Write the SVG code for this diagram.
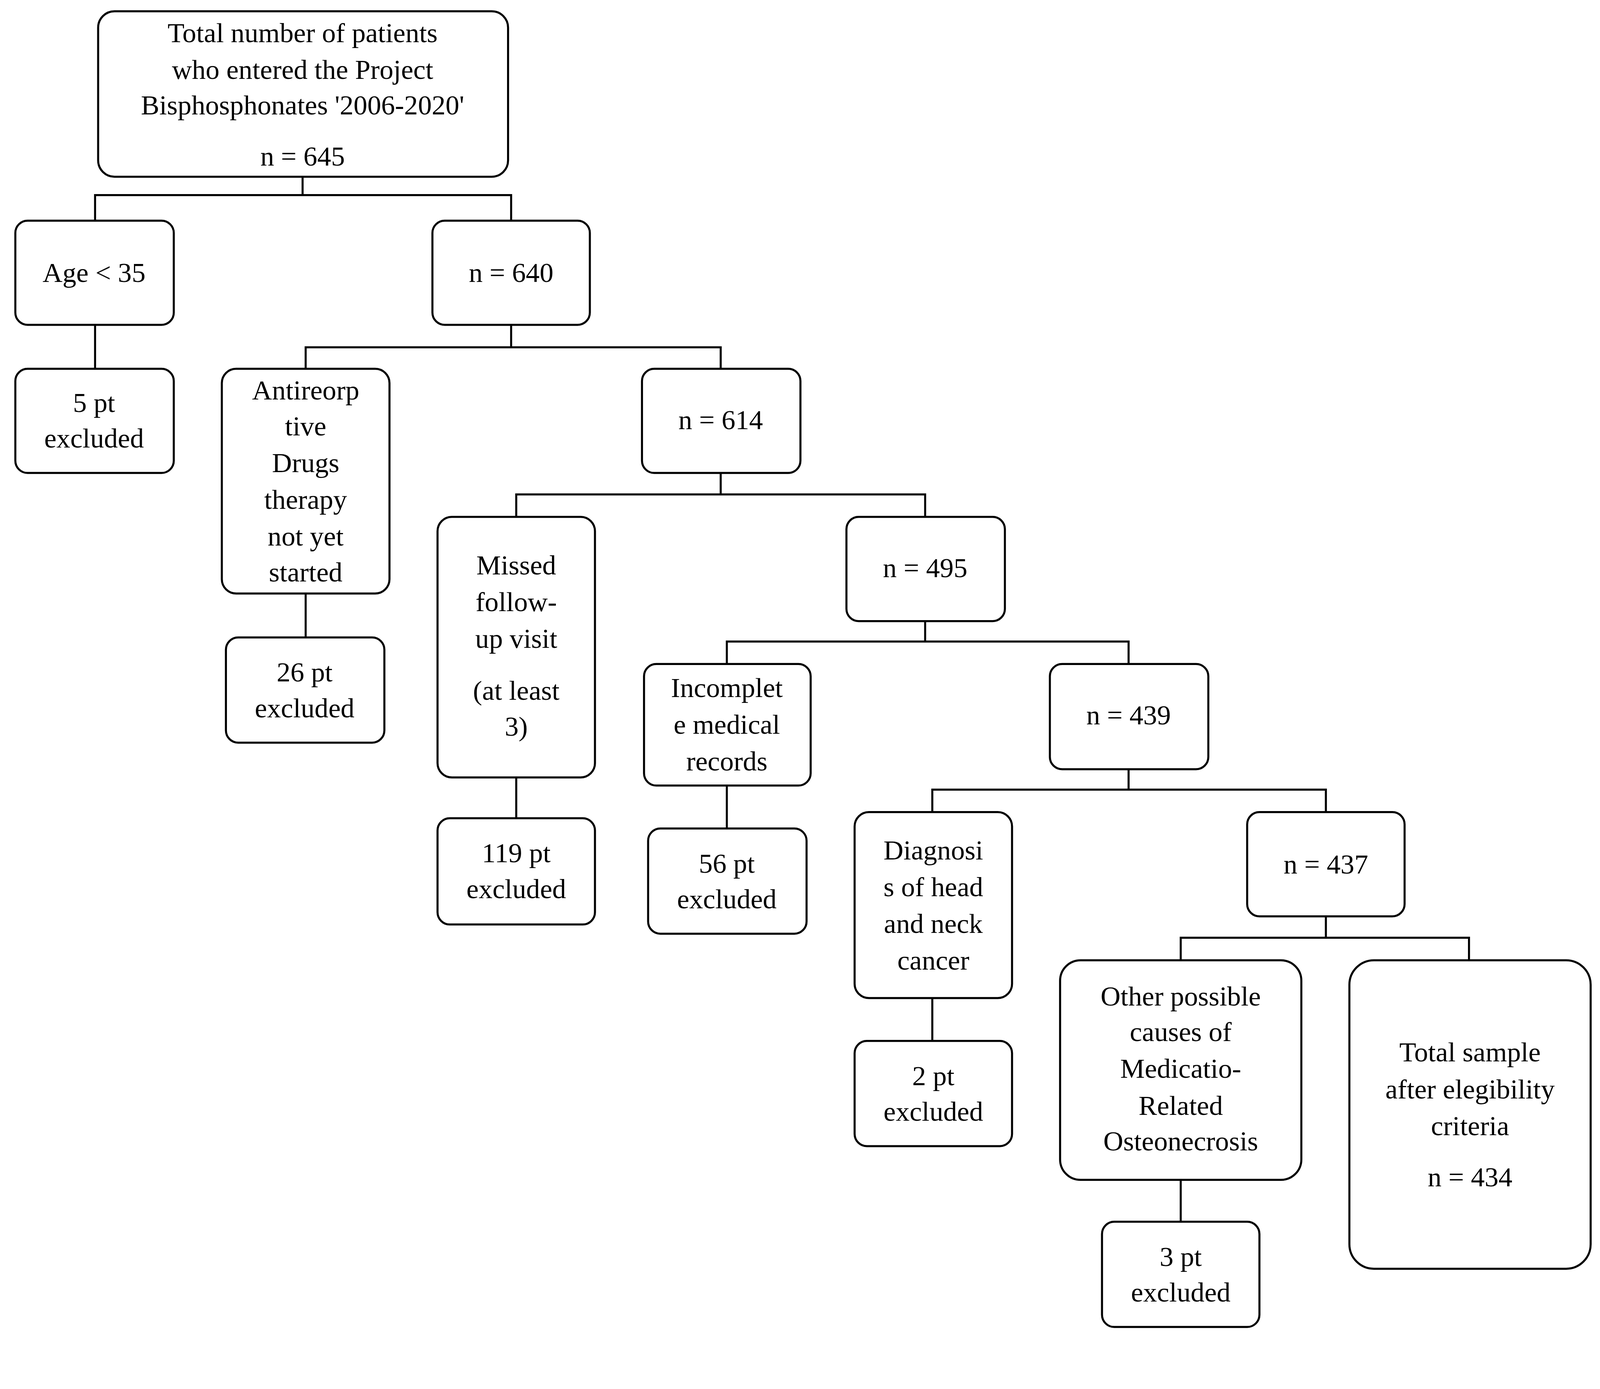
<svg xmlns="http://www.w3.org/2000/svg" width="4255" height="3557" viewBox="0 0 4255 3557">
<style>
rect{fill:#fff;stroke:#000;stroke-width:2}
text{font-family:"Liberation Serif","Times New Roman",serif;font-size:27px;text-anchor:middle;dominant-baseline:central;fill:#000}
.c path{fill:none;stroke:#000;stroke-width:2}
</style>
<rect x="0" y="0" width="4255" height="3557" style="fill:#fff;stroke:none"/>
<g transform="scale(2.617 2.616)">
<g class="c" id="connectors">
<path d="M296 173V191M93 216V191H500V216"/>
<path d="M93 318V361"/>
<path d="M500 318V340M299 361V340H705V361"/>
<path d="M705 463V484M505 506V484H905V506"/>
<path d="M905 608V628M711 650V628H1104V650"/>
<path d="M1104 753V773M912 795V773H1297V795"/>
<path d="M1297 897V918M1155 940V918H1437V940"/>
<path d="M299 581V624M505 761V801M711 769V811M912 977V1019M1155 1155V1196"/>
</g>
<g id="n1"><rect x="96" y="11" width="401" height="162" rx="16"/><text x="296" y="32">Total number of patients</text><text x="296" y="68">who entered the Project</text><text x="296" y="103">Bisphosphonates '2006-2020'</text><text x="296" y="153">n = 645</text></g>
<g id="n2"><rect x="15" y="216" width="155" height="102" rx="12"/><text x="92" y="267">Age &lt; 35</text></g>
<g id="n3"><rect x="423" y="216" width="154" height="102" rx="12"/><text x="500" y="267">n = 640</text></g>
<g id="n4"><rect x="15" y="361" width="155" height="102" rx="12"/><text x="92" y="394">5 pt</text><text x="92" y="429">excluded</text></g>
<g id="n5"><rect x="217" y="361" width="164" height="220" rx="14"/><text x="299" y="382">Antireorp</text><text x="299" y="417">tive</text><text x="299" y="453">Drugs</text><text x="299" y="489">therapy</text><text x="299" y="525">not yet</text><text x="299" y="560">started</text></g>
<g id="n6"><rect x="628" y="361" width="155" height="102" rx="12"/><text x="705" y="411">n = 614</text></g>
<g id="n7"><rect x="221" y="624" width="155" height="103" rx="12"/><text x="298" y="658">26 pt</text><text x="298" y="693">excluded</text></g>
<g id="n8"><rect x="428" y="506" width="154" height="255" rx="14"/><text x="505" y="553">Missed</text><text x="505" y="589">follow-</text><text x="505" y="625">up visit</text><text x="505" y="676">(at least</text><text x="505" y="711">3)</text></g>
<g id="n9"><rect x="828" y="506" width="155" height="102" rx="12"/><text x="905" y="556">n = 495</text></g>
<g id="n10"><rect x="630" y="650" width="163" height="119" rx="12"/><text x="711" y="673">Incomplet</text><text x="711" y="709">e medical</text><text x="711" y="745">records</text></g>
<g id="n11"><rect x="1027" y="650" width="155" height="103" rx="12"/><text x="1104" y="700">n = 439</text></g>
<g id="n12"><rect x="428" y="801" width="154" height="104" rx="12"/><text x="505" y="835">119 pt</text><text x="505" y="870">excluded</text></g>
<g id="n13"><rect x="634" y="811" width="155" height="103" rx="12"/><text x="711" y="845">56 pt</text><text x="711" y="880">excluded</text></g>
<g id="n14"><rect x="836" y="795" width="154" height="182" rx="14"/><text x="913" y="832">Diagnosi</text><text x="913" y="868">s of head</text><text x="913" y="904">and neck</text><text x="913" y="940">cancer</text></g>
<g id="n15"><rect x="1220" y="795" width="154" height="102" rx="12"/><text x="1297" y="846">n = 437</text></g>
<g id="n16"><rect x="836" y="1019" width="154" height="103" rx="12"/><text x="913" y="1053">2 pt</text><text x="913" y="1088">excluded</text></g>
<g id="n17"><rect x="1037" y="940" width="236" height="215" rx="20"/><text x="1155" y="975">Other possible</text><text x="1155" y="1010">causes of</text><text x="1155" y="1046">Medicatio-</text><text x="1155" y="1082">Related</text><text x="1155" y="1117">Osteonecrosis</text></g>
<g id="n18"><rect x="1320" y="940" width="236" height="302" rx="24"/><text x="1438" y="1030">Total sample</text><text x="1438" y="1066">after elegibility</text><text x="1438" y="1102">criteria</text><text x="1438" y="1152">n = 434</text></g>
<g id="n19"><rect x="1078" y="1196" width="154" height="103" rx="12"/><text x="1155" y="1230">3 pt</text><text x="1155" y="1265">excluded</text></g>
</g>
</svg>
